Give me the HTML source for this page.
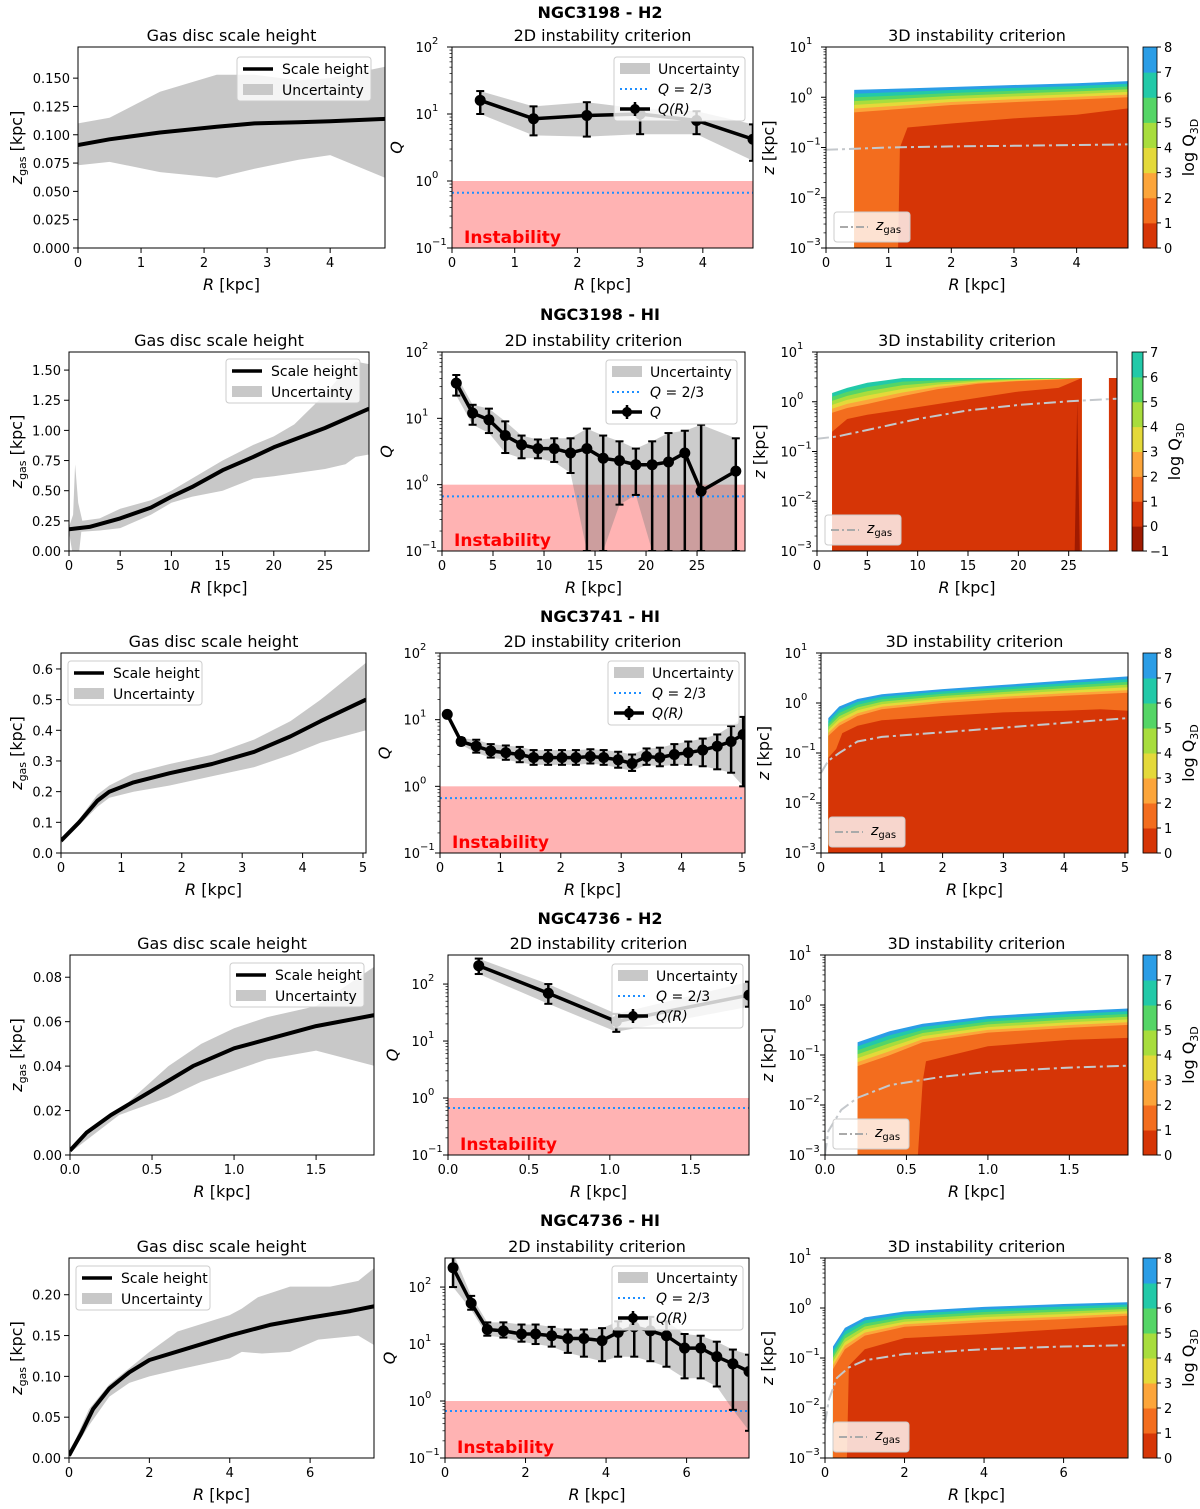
<!DOCTYPE html>
<html><head><meta charset="utf-8"><style>
html,body{margin:0;padding:0;background:#fff}
svg{display:block;font-family:"DejaVu Sans","Liberation Sans",sans-serif}
</style></head><body>
<svg id="fig" width="1200" height="1509" viewBox="0 0 1200 1509" xmlns="http://www.w3.org/2000/svg"></svg>
<script>
// ---------- DATA ----------
// Row 1: NGC3198 - H2
const r1_R=[0,0.5,1.3,2.2,2.8,3.5,4,4.87];
const r1_z=[0.091,0.096,0.102,0.107,0.110,0.111,0.112,0.114];
const r1_up=[0.110,0.115,0.138,0.153,0.153,0.148,0.150,0.160];
const r1_lo=[0.073,0.076,0.067,0.062,0.070,0.078,0.082,0.062];
const r1_yt=[0,0.025,0.05,0.075,0.1,0.125,0.15];
const r1q_R=[0.45,1.3,2.15,3.0,3.9,4.8];
const r1q_Q=[16,8.5,9.5,10,8,4.2];
const r1q_lo=[10,4.8,4.6,5,5,2];
const r1q_hi=[22,13,15,12,11,7];
const r1c_R=[0.45,1.3,2,3,4,4.82];
const r1c_top=[1.4,1.5,1.6,1.75,1.9,2.1];
const r1c_b2=[0.5,0.6,0.7,0.8,0.9,1.0];
const r1c_R1=[1.15,1.18,1.3,2,3,4,4.82];
const r1c_b1=[0.001,0.1,0.25,0.3,0.38,0.45,0.6];
const r1c_zR=[0,1,2,3,4,4.82];
const r1c_zg=[0.09,0.1,0.105,0.108,0.112,0.115];
// Row 2: NGC3198 - HI
const r2_R=[0,2,5,8,10,12,15,18,20,25,29.3];
const r2_z=[0.18,0.2,0.27,0.36,0.45,0.53,0.67,0.78,0.86,1.02,1.18];
const r2_uR=[0,0.4,0.6,0.9,1.3,3,5,8,10,12,15,18,20,22,25,27,28,29.3];
const r2_up=[0.2,0.3,0.72,0.4,0.25,0.27,0.35,0.42,0.5,0.6,0.75,0.88,0.95,1.05,1.3,1.5,1.57,1.55];
const r2_lR=[0,0.3,1.0,1.2,3,5,8,10,12,15,18,20,25,27,28,29.3];
const r2_lo=[0.16,0.0,0.0,0.16,0.17,0.19,0.3,0.4,0.45,0.5,0.6,0.62,0.68,0.72,0.78,0.8];
const r2_yt=[0,0.25,0.5,0.75,1.0,1.25,1.5];
const r2q_R=[1.4,3,4.6,6.2,7.8,9.4,11,12.6,14.2,15.8,17.4,19,20.6,22.2,23.8,25.4,28.8];
const r2q_Q=[34,12,9.5,5.5,4,3.5,3.5,3,3.5,2.5,2.3,2,2,2.2,3,0.8,1.6];
const r2q_lo=[22,8,6,3,2.5,2.5,2.2,1.5,0.1,0.1,0.5,0.7,0.1,0.1,0.1,0.1,0.1];
const r2q_hi=[45,16,14,9,5.5,4.8,5,5,7,5.5,4.5,3.5,4.5,6,6.5,8,5];
const r2c_R=[1.5,3,5,8.5,12,16,20,24,26.3];
const r2c_top=[1.5,1.9,2.4,3,3,3,3,3,3];
const r2c_b2=[0.6,0.75,0.9,1.3,1.8,2.3,2.6,2.8,3];
const r2c_R1=[1.5,3,5,8.5,12,16,20,24,26.3];
const r2c_b1=[0.25,0.45,0.55,0.7,0.9,1.2,1.6,1.9,3];
const r2c_stripR=[29,29.8];
const r2c_stripZ=[3,3];
const r2c_spikeR=[25.6,25.85,26.1];
const r2c_spikeZ=[0.001,1.0,0.001];
const r2c_zR=[0,2,5,10,15,20,25,29.8];
const r2c_zg=[0.18,0.2,0.27,0.45,0.67,0.86,1.02,1.15];
// Row 3: NGC3741 - HI
const r3_R=[0,0.3,0.6,0.8,1.2,1.8,2.5,3.2,3.8,4.3,5.05];
const r3_z=[0.04,0.1,0.17,0.2,0.23,0.26,0.29,0.33,0.38,0.43,0.5];
const r3_up=[0.05,0.11,0.19,0.22,0.26,0.29,0.32,0.37,0.43,0.50,0.62];
const r3_lo=[0.03,0.09,0.15,0.18,0.20,0.22,0.25,0.28,0.32,0.36,0.40];
const r3_yt=[0,0.1,0.2,0.3,0.4,0.5,0.6];
const r3q_R=[0.12,0.35,0.6,0.84,1.09,1.32,1.55,1.79,2.02,2.25,2.49,2.71,2.95,3.18,3.42,3.64,3.88,4.11,4.35,4.59,4.82,5.02];
const r3q_Q=[12,4.7,4.0,3.4,3.2,3.0,2.7,2.7,2.7,2.7,2.8,2.7,2.5,2.2,2.8,2.7,3.0,3.2,3.5,4.0,4.7,6.0];
const r3q_lo=[11,4.2,3.2,2.7,2.5,2.3,2.1,2.1,2.1,2.1,2.2,2.1,1.9,1.7,2.1,2.0,2.1,2.1,2.0,1.8,1.6,1.0];
const r3q_hi=[13,5.3,5.0,4.3,4.1,3.9,3.5,3.5,3.5,3.5,3.6,3.5,3.3,3.0,3.7,3.8,4.3,4.7,5.2,6.0,8.0,11];
const r3c_R=[0.12,0.3,0.6,1,2,3,4,5.05];
const r3c_top=[0.5,0.85,1.2,1.5,1.9,2.3,2.8,3.4];
const r3c_b2=[0.22,0.35,0.55,0.75,1.0,1.2,1.4,1.6];
const r3c_R1=[0.12,0.25,0.35,0.6,1,2,3,4,4.6,5.05];
const r3c_b1=[0.08,0.12,0.25,0.35,0.45,0.55,0.65,0.7,0.75,0.7];
const r3c_zR=[0,0.12,0.3,0.6,1,2,3,4,5.05];
const r3c_zg=[0.04,0.07,0.1,0.17,0.21,0.26,0.32,0.4,0.5];
// Row 4: NGC4736 - H2
const r4_R=[0,0.1,0.25,0.5,0.75,1.0,1.25,1.5,1.86];
const r4_z=[0.002,0.01,0.018,0.029,0.04,0.048,0.053,0.058,0.063];
const r4_uR=[0,0.3,0.45,0.6,0.8,1.0,1.2,1.5,1.86];
const r4_up=[0.003,0.02,0.03,0.04,0.05,0.057,0.062,0.067,0.085];
const r4_lo=[0.001,0.018,0.022,0.026,0.033,0.038,0.043,0.047,0.04];
const r4_yt=[0,0.02,0.04,0.06,0.08];
const r4q_R=[0.19,0.62,1.04,1.86];
const r4q_Q=[210,69,22,64];
const r4q_lo=[150,45,14.5,40];
const r4q_hi=[280,100,30,110];
const r4c_R=[0.2,0.4,0.6,1,1.5,1.86];
const r4c_top=[0.18,0.3,0.42,0.6,0.75,0.85];
const r4c_b2=[0.06,0.1,0.18,0.28,0.35,0.4];
const r4c_R1=[0.57,0.6,0.62,1.0,1.5,1.86];
const r4c_b1=[0.001,0.03,0.075,0.15,0.2,0.22];
const r4c_zR=[0,0.02,0.1,0.2,0.4,0.7,1,1.5,1.86];
const r4c_zg=[0.001,0.003,0.008,0.014,0.025,0.036,0.046,0.056,0.061];
// Row 5: NGC4736 - HI
const r5_R=[0,0.3,0.6,1,1.5,2,3,4,5,6,7,7.6];
const r5_z=[0.003,0.03,0.06,0.085,0.105,0.12,0.135,0.15,0.163,0.172,0.18,0.186];
const r5_uR=[0,0.5,1,2,2.7,4,4.3,4.7,5.5,6.5,7.2,7.6];
const r5_up=[0.005,0.06,0.09,0.13,0.155,0.175,0.183,0.197,0.21,0.21,0.217,0.233];
const r5_lR=[0,0.5,1,1.5,2,2.7,4,4.3,4.8,5.5,6.2,7.2,7.6];
const r5_lo=[0,0.04,0.075,0.092,0.1,0.108,0.122,0.13,0.128,0.13,0.145,0.15,0.138];
const r5_yt=[0,0.05,0.1,0.15,0.2];
const r5q_R=[0.2,0.65,1.05,1.45,1.9,2.25,2.65,3.05,3.45,3.9,4.3,4.7,5.1,5.5,5.95,6.35,6.75,7.15,7.55];
const r5q_Q=[218,52,18,17,15,15,14,12.5,12.5,11.5,16,20,17,14,8.5,8.5,6,4.5,3.3];
const r5q_lo=[100,40,14,13,11,10,9,7,6,5,6,6,5,4,2.5,2.5,1.8,0.7,0.3];
const r5q_hi=[400,70,24,24,22,22,20,18,18,19,25,30,30,25,15,14,11,8,6.5];
const r5c_R=[0.2,0.5,1,2,4,6,7.6];
const r5c_top=[0.17,0.4,0.65,0.85,1.05,1.2,1.3];
const r5c_b2=[0.06,0.15,0.28,0.42,0.52,0.6,0.7];
const r5c_R1=[0.55,0.6,1,2,4,6,7.6];
const r5c_b1=[0.001,0.07,0.15,0.25,0.3,0.38,0.45];
const r5c_zR=[0,0.1,0.3,0.6,1,2,4,6,7.6];
const r5c_zg=[0.005,0.015,0.04,0.065,0.09,0.12,0.15,0.17,0.18];

const LVLCOL={'-1':'#a01a01','0':'#d63506','1':'#f36d1e','2':'#fca53a','3':'#e4d93a','4':'#a8dd3d','5':'#55d566','6':'#22c9a8','7':'#2b9de6'};

// ---------- RENDER ----------
const NS='http://www.w3.org/2000/svg';
const fig=document.getElementById('fig');
function mk(tag,attrs,parent,name){
  const el=document.createElementNS(NS,tag);
  for(const k in attrs) el.setAttribute(k,attrs[k]);
  
  
  (parent||fig).appendChild(el);
  return el;
}
function txt(x,y,s,opt,parent,name){
  const a=Object.assign({x:x,y:y,'font-size':13,fill:'#000'},opt||{});
  const t=mk('text',a,parent,name); t.textContent=s; return t;
}
function linX(b,d){return v=>b.x+(v-d[0])/(d[1]-d[0])*b.w;}
function linY(b,d){return v=>b.y+b.h-(v-d[0])/(d[1]-d[0])*b.h;}
function logY(b,d){return v=>b.y+b.h-(Math.log10(Math.max(v,1e-9))-d[0])/(d[1]-d[0])*b.h;}
let clipN=0;
function clip(b){const id='c'+(clipN++);const cp=mk('clipPath',{id:id},fig,'clip-region');mk('rect',{x:b.x,y:b.y,width:b.w,height:b.h},cp,'clip-rect');return 'url(#'+id+')';}
function frame(b){mk('rect',{x:b.x,y:b.y,width:b.w,height:b.h,fill:'none',stroke:'#000','stroke-width':1},fig,'axes-frame');}
function xTicks(b,sx,ticks,fmt){
  ticks.forEach(t=>{const x=sx(t);mk('line',{x1:x,x2:x,y1:b.y+b.h,y2:b.y+b.h+5,stroke:'#000'},fig,'x-tick');
    txt(x,b.y+b.h+19,fmt(t),{'text-anchor':'middle'},fig,'x-tick-label');});
  const l=txt(b.x+b.w/2,b.y+b.h+42,'',{'text-anchor':'middle','font-size':16},fig,'x-axis-title');
  const i=mk('tspan',{'font-style':'italic'},l,'x-axis-symbol');i.textContent='R';
  const r=mk('tspan',{},l,'x-axis-unit');r.textContent=' [kpc]';
}
function yTicksLin(b,sy,ticks,dec){
  ticks.forEach(t=>{const y=sy(t);mk('line',{x1:b.x-5,x2:b.x,y1:y,y2:y,stroke:'#000'},fig,'y-tick');
    txt(b.x-8,y+5,t.toFixed(dec),{'text-anchor':'end'},fig,'y-tick-label');});
}
function yTicksLog(b,sy,lo,hi){
  for(let e=lo;e<=hi;e++){const y=sy(Math.pow(10,e));
    mk('line',{x1:b.x-5,x2:b.x,y1:y,y2:y,stroke:'#000'},fig,'y-tick');
    txt(b.x-20,y+5,'10',{'text-anchor':'end'},fig,'y-tick-label');
    txt(b.x-20,y-3,(e<0?'\u2212':'')+Math.abs(e),{'text-anchor':'start','font-size':10},fig,'y-tick-exponent');
    if(e<hi){for(let m=2;m<10;m++){const ym=sy(m*Math.pow(10,e));if(ym>=b.y)mk('line',{x1:b.x-2.5,x2:b.x,y1:ym,y2:ym,stroke:'#000','stroke-width':0.7},fig,'y-minor-tick');}}
  }
}
function ylabelRot(x,y,parts,name){
  const t=mk('text',{x:0,y:0,'font-size':16,'text-anchor':'middle',transform:'translate('+x+','+y+') rotate(-90)'},fig,name);
  parts.forEach(p=>{const s=mk('tspan',p.a||{},t,'label-part');s.textContent=p.s;});
}
function pathFrom(xs,ys,sx,sy){return xs.map((v,i)=>(i?'L':'M')+sx(v).toFixed(1)+','+sy(ys[i]).toFixed(1)).join('');}
function legendBox(x,y,w,h,name){mk('rect',{x:x,y:y,width:w,height:h,rx:3,fill:'#fff','fill-opacity':0.8,stroke:'#ccc'},fig,name);}
function title(b,s){txt(b.x+b.w/2,b.y-6,s,{'text-anchor':'middle','font-size':16},fig,'panel-title');}

function leftPanel(b,xd,yd,R,z,uR,up,lR,lo,yt,dec,xt,xfmt,leg){
  const sx=linX(b,xd),sy=linY(b,yd);const cp=clip(b);
  const g=mk('g',{'clip-path':cp},fig,'plot-area');
  const d=pathFrom(uR,up,sx,sy)+lR.slice().reverse().map((v,i,a)=>'L'+sx(v).toFixed(1)+','+sy(lo.slice().reverse()[i]).toFixed(1)).join('')+'Z';
  mk('path',{d:d,fill:'#c8c8c8'},g,'uncertainty-band');
  mk('path',{d:pathFrom(R,z,sx,sy),fill:'none',stroke:'#000','stroke-width':4,'stroke-linejoin':'round'},g,'scale-height-line');
  frame(b);title(b,'Gas disc scale height');
  yTicksLin(b,sy,yt,dec);xTicks(b,sx,xt,xfmt);
  ylabelRot(22,b.y+b.h/2,[{s:'z',a:{'font-style':'italic'}},{s:'gas',a:{'font-size':11,dy:4}},{s:' [kpc]',a:{dy:-4}}],'y-axis-title');
  legendBox(leg.x,leg.y,134,44,'legend');
  mk('line',{x1:leg.x+6,x2:leg.x+36,y1:leg.y+12,y2:leg.y+12,stroke:'#000','stroke-width':3.5},fig,'legend-line-swatch');
  txt(leg.x+45,leg.y+17,'Scale height',{'font-size':14},fig,'legend-entry-scale-height');
  mk('rect',{x:leg.x+6,y:leg.y+27,width:30,height:11,fill:'#c8c8c8'},fig,'legend-band-swatch');
  txt(leg.x+45,leg.y+38,'Uncertainty',{'font-size':14},fig,'legend-entry-uncertainty');
}
function midPanel(b,xd,yd,R,Q,lo,hi,xt,xfmt,leg,qlab){
  const sx=linX(b,xd),sy=logY(b,yd);const cp=clip(b);
  const g=mk('g',{'clip-path':cp},fig,'plot-area');
  mk('rect',{x:b.x,y:sy(1),width:b.w,height:sy(0.1)-sy(1),fill:'#ffb3b3'},g,'instability-region');
  const d=pathFrom(R,hi,sx,sy)+R.slice().reverse().map((v,i)=>'L'+sx(v).toFixed(1)+','+sy(lo.slice().reverse()[i]).toFixed(1)).join('')+'Z';
  mk('path',{d:d,fill:'#808080','fill-opacity':0.4},g,'uncertainty-band');
  mk('line',{x1:b.x,x2:b.x+b.w,y1:sy(2/3),y2:sy(2/3),stroke:'#1f8fff','stroke-width':2,'stroke-dasharray':'2,3'},g,'q-two-thirds-line');
  R.forEach((r,i)=>{const x=sx(r);
    mk('line',{x1:x,x2:x,y1:sy(lo[i]),y2:sy(hi[i]),stroke:'#000','stroke-width':2.5},g,'error-bar');
    mk('line',{x1:x-4,x2:x+4,y1:sy(lo[i]),y2:sy(lo[i]),stroke:'#000','stroke-width':2},g,'error-cap');
    mk('line',{x1:x-4,x2:x+4,y1:sy(hi[i]),y2:sy(hi[i]),stroke:'#000','stroke-width':2},g,'error-cap');});
  mk('path',{d:pathFrom(R,Q,sx,sy),fill:'none',stroke:'#000','stroke-width':3.5},g,'q-line');
  R.forEach((r,i)=>{mk('circle',{cx:sx(r),cy:sy(Q[i]),r:5.5,fill:'#000'},g,'q-point');});
  txt(b.x+12,b.y+b.h-5,'Instability',{'font-size':17,'font-weight':'bold',fill:'#ff0000'},fig,'instability-label');
  frame(b);title(b,'2D instability criterion');
  yTicksLog(b,sy,-1,2);xTicks(b,sx,xt,xfmt);
  txt(b.x-50,b.y+b.h/2,'Q',{'font-size':16,'font-style':'italic','text-anchor':'middle',transform:'rotate(-90 '+(b.x-50)+' '+(b.y+b.h/2)+')'},fig,'y-axis-title');
  legendBox(leg.x,leg.y,131,64,'legend');
  mk('rect',{x:leg.x+6,y:leg.y+6,width:30,height:11,fill:'#c8c8c8'},fig,'legend-band-swatch');
  txt(leg.x+44,leg.y+17,'Uncertainty',{'font-size':14},fig,'legend-entry-uncertainty');
  mk('line',{x1:leg.x+6,x2:leg.x+36,y1:leg.y+32,y2:leg.y+32,stroke:'#1f8fff','stroke-width':2,'stroke-dasharray':'2,3'},fig,'legend-dotted-swatch');
  const t2=txt(leg.x+44,leg.y+37,'',{'font-size':14},fig,'legend-entry-q-two-thirds');
  const q1=mk('tspan',{'font-style':'italic'},t2,'legend-q');q1.textContent='Q';
  const q2=mk('tspan',{},t2,'legend-q-value');q2.textContent=' = 2/3';
  mk('line',{x1:leg.x+6,x2:leg.x+36,y1:leg.y+52,y2:leg.y+52,stroke:'#000','stroke-width':3.5},fig,'legend-q-line-swatch');
  mk('line',{x1:leg.x+21,x2:leg.x+21,y1:leg.y+45,y2:leg.y+59,stroke:'#000','stroke-width':2.5},fig,'legend-q-errorbar');
  mk('circle',{cx:leg.x+21,cy:leg.y+52,r:5,fill:'#000'},fig,'legend-q-marker');
  txt(leg.x+44,leg.y+57,qlab,{'font-size':14,'font-style':'italic'},fig,'legend-entry-q');
}
function rightPanel(b,xd,R,top,b2,R1,b1,zR,zg,topLvl,minLvl,xt,xfmt,cb,extras){
  const sx=linX(b,xd),sy=logY(b,[-3,1]);const cp=clip(b);
  const g=mk('g',{'clip-path':cp},fig,'plot-area');
  const bottom=0.001;
  for(let k=topLvl;k>=2;k--){
    const t=(k-2)/(topLvl-2);
    const bz=R.map((r,i)=>Math.pow(10,Math.log10(b2[i])+(Math.log10(top[i])-Math.log10(b2[i]))*t));
    let d='M'+sx(R[0])+','+sy(bottom)+pathFrom(R,bz,sx,sy).replace('M','L')+'L'+sx(R[R.length-1])+','+sy(bottom)+'Z';
    mk('path',{d:d,fill:LVLCOL[k-1]},g,'contour-level-'+(k-1));
  }
  let d1='M'+sx(R1[0])+','+sy(bottom)+pathFrom(R1,b1,sx,sy).replace('M','L')+'L'+sx(R1[R1.length-1])+','+sy(bottom)+'Z';
  mk('path',{d:d1,fill:LVLCOL[0]},g,'contour-level-0');
  (extras||[]).forEach(e=>{
    const d='M'+sx(e.R[0])+','+sy(bottom)+pathFrom(e.R,e.z,sx,sy).replace('M','L')+'L'+sx(e.R[e.R.length-1])+','+sy(bottom)+'Z';
    mk('path',{d:d,fill:LVLCOL[e.l]},g,e.name);
  });
  mk('path',{d:pathFrom(zR,zg,sx,sy),fill:'none',stroke:'#c4c8cc','stroke-width':2,'stroke-dasharray':'12,4,3,4'},g,'zgas-line');
  frame(b);title(b,'3D instability criterion');
  yTicksLog(b,sy,-3,1);xTicks(b,sx,xt,xfmt);
  ylabelRot(b.x-52,b.y+b.h/2,[{s:'z',a:{'font-style':'italic'}},{s:' [kpc]'}],'y-axis-title');
  legendBox(b.x+8,b.y+b.h-36,76,30,'legend');
  mk('line',{x1:b.x+14,x2:b.x+42,y1:b.y+b.h-21,y2:b.y+b.h-21,stroke:'#aaa','stroke-width':2,'stroke-dasharray':'8,3,2,3'},fig,'legend-zgas-swatch');
  const lt=txt(b.x+50,b.y+b.h-18,'',{'font-size':14},fig,'legend-entry-zgas');
  const a1=mk('tspan',{'font-style':'italic'},lt,'legend-z');a1.textContent='z';
  const a2=mk('tspan',{'font-size':10,dy:3},lt,'legend-gas');a2.textContent='gas';
  const n=topLvl-minLvl;const sh=cb.h/n;
  for(let l=minLvl;l<topLvl;l++){
    mk('rect',{x:cb.x,y:cb.y+cb.h-(l-minLvl+1)*sh,width:cb.w,height:sh+0.5,fill:LVLCOL[l]},fig,'colorbar-segment');
  }
  mk('rect',{x:cb.x,y:cb.y,width:cb.w,height:cb.h,fill:'none',stroke:'#000','stroke-width':0.8},fig,'colorbar-frame');
  for(let l=minLvl;l<=topLvl;l++){const y=cb.y+cb.h-(l-minLvl)*sh;
    mk('line',{x1:cb.x+cb.w,x2:cb.x+cb.w+4,y1:y,y2:y,stroke:'#000'},fig,'colorbar-tick');
    txt(cb.x+cb.w+7,y+5,(l<0?'\u2212':'')+Math.abs(l),{},fig,'colorbar-tick-label');}
  const cx=cb.x+cb.w+37,cy=cb.y+cb.h/2;
  const ct=mk('text',{x:0,y:0,'font-size':16,'text-anchor':'middle',transform:'translate('+cx+','+cy+') rotate(-90)'},fig,'colorbar-title');
  const c1=mk('tspan',{},ct,'colorbar-title-log');c1.textContent='log Q';
  const c2=mk('tspan',{'font-size':11,dy:4},ct,'colorbar-title-sub');c2.textContent='3D';
}
function sup(y,s){txt(600,y,s,{'text-anchor':'middle','font-size':16,'font-weight':'bold'},fig,'row-title');}

const f0=v=>String(v), f1=v=>v.toFixed(1);
// Row 1
sup(18,'NGC3198 - H2');
leftPanel({x:78,y:47,w:307,h:201},[0,4.87],[0,0.1775],r1_R,r1_z,r1_R,r1_up,r1_R,r1_lo,r1_yt,3,[0,1,2,3,4],f0,{x:237,y:57});
midPanel({x:452,y:47,w:301,h:201},[0,4.8],[-1,2],r1q_R,r1q_Q,r1q_lo,r1q_hi,[0,1,2,3,4],f0,{x:614,y:57},'Q(R)');
rightPanel({x:826,y:47,w:302,h:201},[0,4.82],r1c_R,r1c_top,r1c_b2,r1c_R1,r1c_b1,r1c_zR,r1c_zg,8,0,[0,1,2,3,4],f0,{x:1143,y:47,w:14,h:201});
// Row 2
sup(320,'NGC3198 - HI');
leftPanel({x:69,y:352,w:300,h:199},[0,29.3],[0,1.65],r2_R,r2_z,r2_uR,r2_up,r2_lR,r2_lo,r2_yt,2,[0,5,10,15,20,25],f0,{x:226,y:359});
midPanel({x:442,y:352,w:303,h:199},[0,29.7],[-1,2],r2q_R,r2q_Q,r2q_lo,r2q_hi,[0,5,10,15,20,25],f0,{x:606,y:360},'Q');
rightPanel({x:817,y:352,w:300,h:199},[0,29.8],r2c_R,r2c_top,r2c_b2,r2c_R1,r2c_b1,r2c_zR,r2c_zg,7,-1,[0,5,10,15,20,25],f0,{x:1132,y:352,w:11,h:199},
  [{R:r2c_stripR,z:r2c_stripZ,l:0,name:'contour-strip'},{R:r2c_spikeR,z:r2c_spikeZ,l:-1,name:'contour-level-minus1'}]);
// Row 3
sup(622,'NGC3741 - HI');
leftPanel({x:61,y:653,w:305,h:200},[0,5.05],[0,0.652],r3_R,r3_z,r3_R,r3_up,r3_R,r3_lo,r3_yt,1,[0,1,2,3,4,5],f0,{x:68,y:661});
midPanel({x:440,y:653,w:305,h:200},[0,5.05],[-1,2],r3q_R,r3q_Q,r3q_lo,r3q_hi,[0,1,2,3,4,5],f0,{x:608,y:661},'Q(R)');
rightPanel({x:821,y:653,w:307,h:200},[0,5.05],r3c_R,r3c_top,r3c_b2,r3c_R1,r3c_b1,r3c_zR,r3c_zg,8,0,[0,1,2,3,4,5],f0,{x:1143,y:653,w:14,h:200});
// Row 4
sup(924,'NGC4736 - H2');
leftPanel({x:70,y:955,w:304,h:200},[0,1.853],[0,0.09],r4_R,r4_z,r4_uR,r4_up,r4_uR,r4_lo,r4_yt,2,[0,0.5,1,1.5],f1,{x:230,y:963});
midPanel({x:448,y:955,w:301,h:200},[0,1.86],[-1,2.51],r4q_R,r4q_Q,r4q_lo,r4q_hi,[0,0.5,1,1.5],f1,{x:612,y:964},'Q(R)');
rightPanel({x:825,y:955,w:303,h:200},[0,1.86],r4c_R,r4c_top,r4c_b2,r4c_R1,r4c_b1,r4c_zR,r4c_zg,8,0,[0,0.5,1,1.5],f1,{x:1143,y:955,w:14,h:200});
// Row 5
sup(1226,'NGC4736 - HI');
leftPanel({x:69,y:1258,w:305,h:200},[0,7.59],[0,0.245],r5_R,r5_z,r5_uR,r5_up,r5_lR,r5_lo,r5_yt,2,[0,2,4,6],f0,{x:76,y:1266});
midPanel({x:445,y:1258,w:304,h:200},[0,7.55],[-1,2.51],r5q_R,r5q_Q,r5q_lo,r5q_hi,[0,2,4,6],f0,{x:612,y:1266},'Q(R)');
rightPanel({x:825,y:1258,w:303,h:200},[0,7.62],r5c_R,r5c_top,r5c_b2,r5c_R1,r5c_b1,r5c_zR,r5c_zg,8,0,[0,2,4,6],f0,{x:1143,y:1258,w:14,h:200});
</script>
</body></html>
